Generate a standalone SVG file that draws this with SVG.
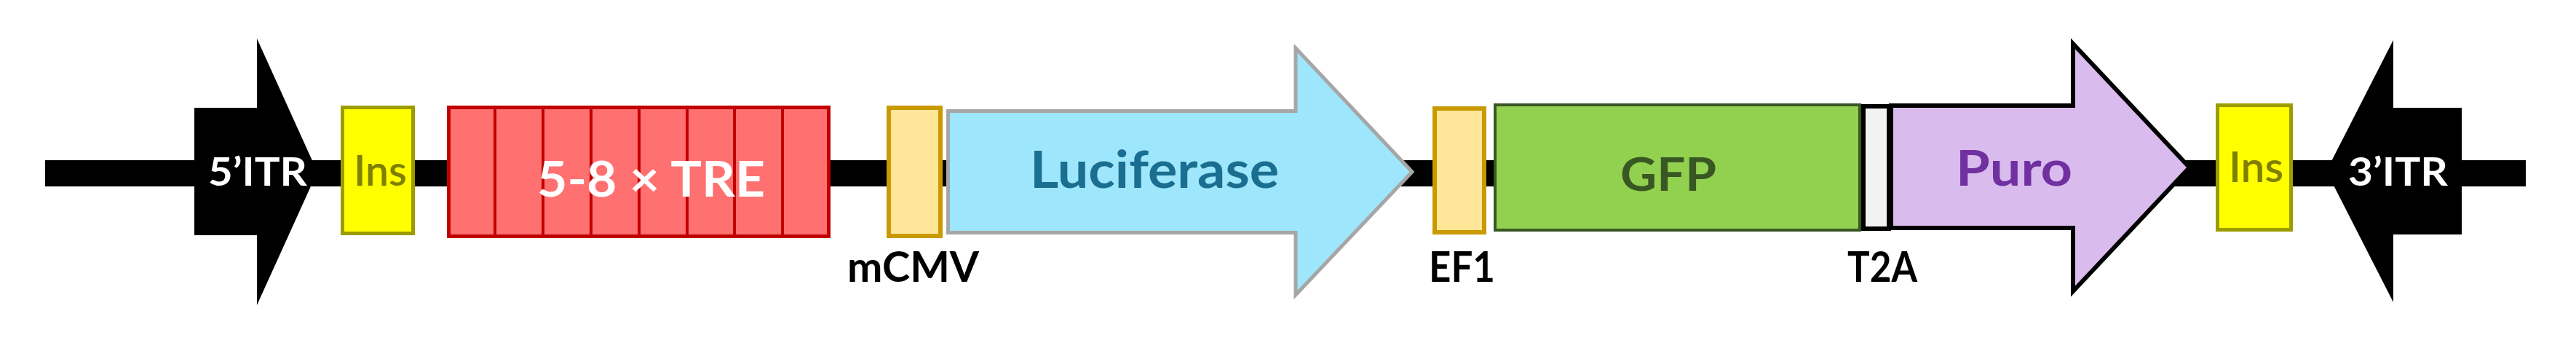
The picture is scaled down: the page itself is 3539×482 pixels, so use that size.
<svg xmlns="http://www.w3.org/2000/svg" width="3539" height="482" viewBox="0 0 3539 482">
<style>
text{font-family:Lato,"Open Sans","Liberation Sans",sans-serif;font-weight:bold}
.itr{fill:#000}
.itrt{fill:#fff;font-size:53px}
.ins{fill:#ffff00;stroke:#9c9c00;stroke-width:5}
.inst{fill:#7f7f00;font-size:58px;font-weight:600}
.prom{fill:#ffe699;stroke:#c99a00;stroke-width:6}
.lab{fill:#000;font-size:58px}
.tre{fill:#ff7070;stroke:#c00000;stroke-width:5}
.div{stroke:#c00000;stroke-width:4}
</style>
<g id="connectors">
<rect id="backbone" x="62" y="220" width="3408" height="36" fill="#000"/>
</g>
<g id="itr5">
<polygon class="itr" points="267,148 353,148 353,53 436,236 353,419 353,323 267,323"/>
<text class="itrt" x="286" y="255" textLength="136" lengthAdjust="spacingAndGlyphs">5’ITR</text>
</g>
<g id="ins1">
<rect class="ins" x="470.5" y="147.5" width="97" height="173"/>
<text class="inst" x="486" y="255" textLength="73" lengthAdjust="spacingAndGlyphs">Ins</text>
</g>
<g id="tre">
<rect class="tre" x="616.5" y="147.5" width="522" height="177"/>
<line class="div" x1="680" y1="148" x2="680" y2="324"/>
<line class="div" x1="746" y1="148" x2="746" y2="324"/>
<line class="div" x1="812" y1="148" x2="812" y2="324"/>
<line class="div" x1="878" y1="148" x2="878" y2="324"/>
<line class="div" x1="944" y1="148" x2="944" y2="324"/>
<line class="div" x1="1009" y1="148" x2="1009" y2="324"/>
<line class="div" x1="1075" y1="148" x2="1075" y2="324"/>
<text x="738" y="270" fill="#fff" font-size="67" textLength="313" lengthAdjust="spacingAndGlyphs">5-8 × TRE</text>
</g>
<g id="mcmv">
<rect class="prom" x="1221" y="148" width="71" height="176"/>
<text class="lab" x="1164" y="387" textLength="181" lengthAdjust="spacingAndGlyphs">mCMV</text>
</g>
<g id="luciferase">
<polygon points="1302.5,152.5 1780,152.5 1780,66 1940,236 1780,405 1780,319.5 1302.5,319.5" fill="#9ee6fb" stroke="#a6a6a6" stroke-width="5"/>
<text x="1415" y="258" fill="#1a6e90" font-size="70" textLength="342" lengthAdjust="spacingAndGlyphs">Luciferase</text>
</g>
<g id="ef1">
<rect class="prom" x="1971" y="149" width="68" height="170"/>
<text class="lab" x="1963" y="387" textLength="91" lengthAdjust="spacingAndGlyphs">EF1</text>
</g>
<g id="gfp">
<rect x="2054" y="144" width="501" height="172" fill="#92d050" stroke="#385723" stroke-width="4"/>
<text x="2226" y="262" fill="#385723" font-size="63" font-weight="600" textLength="132" lengthAdjust="spacingAndGlyphs">GFP</text>
</g>
<g id="t2a">
<rect x="2560" y="146" width="35" height="168" fill="#f2f2f2" stroke="#000" stroke-width="6"/>
<text class="lab" x="2538" y="387" textLength="96" lengthAdjust="spacingAndGlyphs">T2A</text>
</g>
<g id="puro">
<polygon points="2598,145 2848,145 2848,60 3008,230 2848,400 2848,313 2598,313" fill="#d9bbee" stroke="#000" stroke-width="6"/>
<text x="2687" y="255" fill="#7030a0" font-size="67" font-weight="600" textLength="160" lengthAdjust="spacingAndGlyphs">Puro</text>
</g>
<g id="ins2">
<rect class="ins" x="3046.5" y="144.5" width="101" height="171"/>
<text class="inst" x="3062" y="250" textLength="75" lengthAdjust="spacingAndGlyphs">Ins</text>
</g>
<g id="itr3">
<polygon class="itr" points="3382,148 3288,148 3288,55 3196,235 3288,415 3288,322 3382,322"/>
<text class="itrt" x="3226" y="255" textLength="137" lengthAdjust="spacingAndGlyphs">3’ITR</text>
</g>
</svg>
